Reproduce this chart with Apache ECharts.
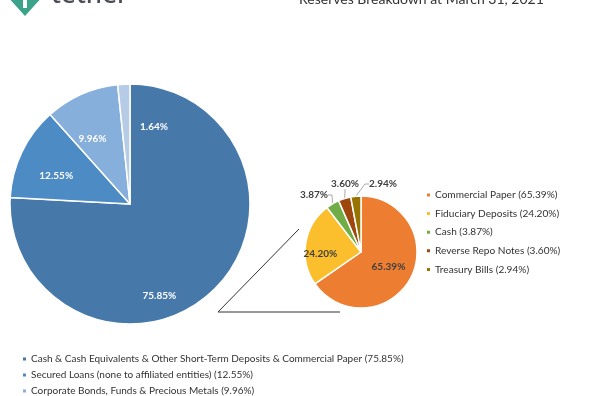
<!DOCTYPE html>
<html>
<head>
<meta charset="utf-8">
<script src="https://cdn.jsdelivr.net/npm/echarts@6/dist/echarts.min.js"></script>
<style>html,body{margin:0;padding:0;background:#fff}#c{width:600px;height:396px}</style>
</head>
<body>
<div id="c"></div>
<script>
// ---- data ----
var mainNames = [
  'Cash & Cash Equivalents & Other Short-Term Deposits & Commercial Paper',
  'Secured Loans (none to affiliated entities)',
  'Corporate Bonds, Funds & Precious Metals',
  'Other Investments (including digital tokens)'
];
var mainValues = [75.85, 12.55, 9.96, 1.64];
var subNames = ['Commercial Paper', 'Fiduciary Deposits', 'Cash', 'Reverse Repo Notes', 'Treasury Bills'];
var subValues = [65.39, 24.20, 3.87, 3.60, 2.94];
var titleText = 'Reserves Breakdown at March 31, 2021';

// ---- styles ----
var mainColors = ['#4679a9', '#4d8bc4', '#86afdc', '#b5cbe6'];
var subColors = ['#ed7d31', '#fbbf2d', '#70ad47', '#9e480e', '#997300'];
var mainLabelOffsets = [[-14, 46], [-17, -1], [-12, -8], null];
var mainOutsideLabelPos = { 3: [154, 127] };
var subOutsideLabelPos = { 2: [314, 195], 3: [345, 184], 4: [383, 184] };
var FONT = 'Lato';

var mainData = mainNames.map(function (n, i) {
  var d = { name: n, value: mainValues[i], itemStyle: { color: mainColors[i] } };
  if (mainLabelOffsets[i]) d.label = { position: 'inside', offset: mainLabelOffsets[i] };
  return d;
});
var subData = subNames.map(function (n, i) {
  var d = { name: n, value: subValues[i], itemStyle: { color: subColors[i] } };
  if (i === 0) d.label = { position: 'inside' };
  if (i === 1) d.label = { position: 'inside', offset: [-10, 7] };
  return d;
});
function fmtMain(name) { return name + ' (' + mainValues[mainNames.indexOf(name)].toFixed(2) + '%)'; }
function fmtSub(name) { return name + ' (' + subValues[subNames.indexOf(name)].toFixed(2) + '%)'; }
function layoutFrom(map) {
  return function (p) {
    var pos = map[p.dataIndex];
    if (!pos) return {};
    return { x: pos[0], y: pos[1], align: 'center', verticalAlign: 'middle' };
  };
}

var chart = echarts.init(document.getElementById('c'), null, { renderer: 'canvas' });
chart.setOption({
  animation: false,
  backgroundColor: '#fff',
  legend: [{
    data: mainNames, orient: 'horizontal', left: 16, top: 349, width: 20,
    icon: 'rect', itemWidth: 5, itemHeight: 5, itemGap: 6,
    formatter: fmtMain,
    textStyle: { fontFamily: FONT, fontSize: 10, color: '#333', padding: [0, 0, 0, -1] }
  }, {
    data: subNames, orient: 'vertical', left: 420, top: 185,
    icon: 'rect', itemWidth: 5, itemHeight: 5, itemGap: 8.6,
    formatter: fmtSub,
    textStyle: { fontFamily: FONT, fontSize: 10.1, color: '#333', padding: [0, 0, 0, -1] }
  }],
  series: [{
    type: 'pie', center: [130, 204], radius: 120, startAngle: 90, clockwise: true,
    data: mainData,
    itemStyle: { borderColor: '#fff', borderWidth: 1.5 },
    label: { position: 'outside', formatter: function (p) { return p.value.toFixed(2) + '%'; },
             color: '#fff', fontFamily: FONT, fontSize: 10, fontWeight: 'bold' },
    labelLine: { show: true, length: 4, length2: 4, lineStyle: { color: '#c8d4e4', width: 1 } },
    labelLayout: layoutFrom(mainOutsideLabelPos)
  }, {
    type: 'pie', center: [361, 252], radius: 56, startAngle: 90, clockwise: true,
    data: subData,
    itemStyle: { borderColor: '#fff', borderWidth: 1.5 },
    label: { position: 'outside', formatter: function (p) { return p.value.toFixed(2) + '%'; },
             color: '#404040', fontFamily: FONT, fontSize: 10, fontWeight: 'bold' },
    labelLine: { show: true, length: 4, length2: 4, lineStyle: { color: '#aaa', width: 1 } },
    labelLayout: layoutFrom(subOutsideLabelPos)
  }],
  graphic: [
    { type: 'line', shape: { x1: 218, y1: 312, x2: 299, y2: 229 }, style: { stroke: '#333', lineWidth: 1 } },
    { type: 'line', shape: { x1: 218, y1: 312, x2: 340, y2: 312 }, style: { stroke: '#333', lineWidth: 1 } },
    { type: 'text', left: 299, top: -8, style: { text: titleText, fontFamily: FONT, fontSize: 14, fill: '#333' } },
    { type: 'polygon', shape: { points: [[7, -4], [43, -4], [25, 16]] }, style: { fill: '#3aa38a' } },
    { type: 'rect', shape: { x: 23, y: 0, width: 4, height: 8 }, style: { fill: '#fff' } },
    { type: 'text', left: 51, top: -17, style: { text: 'tether', fontFamily: 'Noto Sans', fontSize: 26, fontWeight: 500, fill: '#4b4f55' } }
  ]
});
</script>
</body>
</html>
